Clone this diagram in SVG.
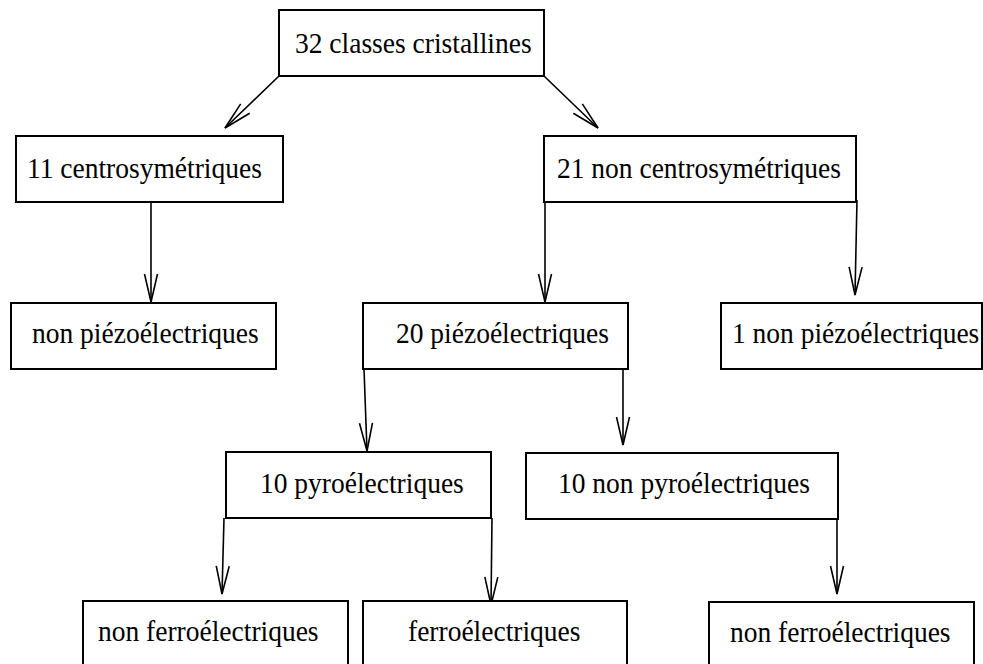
<svg xmlns="http://www.w3.org/2000/svg" width="983" height="664" viewBox="0 0 983 664">
<style>
.box{fill:#fff;stroke:#000;stroke-width:2}
.lbl{font-family:"Liberation Serif","Times New Roman",serif;font-size:27.5px;fill:#000}
.edge{fill:none;stroke:#000;stroke-width:1.6}
</style>
<defs>
<marker id="ah" markerUnits="userSpaceOnUse" markerWidth="40" markerHeight="20" viewBox="-30 -10 40 20" refX="0" refY="0" orient="auto">
<path d="M-28,-6.5 L0,0 L-28,6.5" fill="none" stroke="#000" stroke-width="1.6"/>
</marker>
</defs>
<rect width="983" height="664" fill="#fff"/>
<g id="connectors">
<line class="edge" x1="279" y1="76" x2="225" y2="128" marker-end="url(#ah)"/>
<line class="edge" x1="544" y1="76" x2="598" y2="128" marker-end="url(#ah)"/>
<line class="edge" x1="151" y1="202" x2="151" y2="302" marker-end="url(#ah)"/>
<line class="edge" x1="545" y1="202" x2="545" y2="302" marker-end="url(#ah)"/>
<line class="edge" x1="857" y1="200" x2="855" y2="295" marker-end="url(#ah)"/>
<line class="edge" x1="364" y1="369" x2="367" y2="451" marker-end="url(#ah)"/>
<line class="edge" x1="623" y1="369" x2="623" y2="445" marker-end="url(#ah)"/>
<line class="edge" x1="224" y1="518" x2="222" y2="594" marker-end="url(#ah)"/>
<line class="edge" x1="492" y1="518" x2="491" y2="605" marker-end="url(#ah)"/>
<line class="edge" x1="837" y1="518" x2="837" y2="594" marker-end="url(#ah)"/>
</g>
<g id="n32">
<rect class="box" x="279" y="10" width="265" height="66"/>
<text class="lbl" transform="translate(295,53) scale(1,1.08)">32 classes cristallines</text>
</g>
<g id="n11">
<rect class="box" x="16" y="136" width="267" height="66"/>
<text class="lbl" transform="translate(27,178) scale(1,1.08)">11 centrosymétriques</text>
</g>
<g id="n21">
<rect class="box" x="544" y="136" width="312" height="66"/>
<text class="lbl" transform="translate(557,178) scale(1,1.08)">21 non centrosymétriques</text>
</g>
<g id="nonpiezo">
<rect class="box" x="11" y="303" width="265" height="66"/>
<text class="lbl" transform="translate(32,343) scale(1,1.08)">non piézoélectriques</text>
</g>
<g id="n20piezo">
<rect class="box" x="363" y="303" width="265" height="66"/>
<text class="lbl" transform="translate(396,343) scale(1,1.08)">20 piézoélectriques</text>
</g>
<g id="n1nonpiezo">
<rect class="box" x="721" y="303" width="261" height="66"/>
<text class="lbl" transform="translate(732,343) scale(1,1.08)">1 non piézoélectriques</text>
</g>
<g id="n10pyro">
<rect class="box" x="226" y="452" width="265" height="66"/>
<text class="lbl" transform="translate(260,493) scale(1,1.08)">10 pyroélectriques</text>
</g>
<g id="n10nonpyro">
<rect class="box" x="526" y="453" width="312" height="66"/>
<text class="lbl" transform="translate(558,493) scale(1,1.08)">10 non pyroélectriques</text>
</g>
<g id="nonferro1">
<rect class="box" x="83" y="601" width="265" height="80"/>
<text class="lbl" transform="translate(98,641) scale(1,1.08)">non ferroélectriques</text>
</g>
<g id="ferro">
<rect class="box" x="363" y="601" width="264" height="80"/>
<text class="lbl" transform="translate(408,641) scale(1,1.08)">ferroélectriques</text>
</g>
<g id="nonferro2">
<rect class="box" x="709" y="602" width="265" height="80"/>
<text class="lbl" transform="translate(730,642) scale(1,1.08)">non ferroélectriques</text>
</g>
</svg>
